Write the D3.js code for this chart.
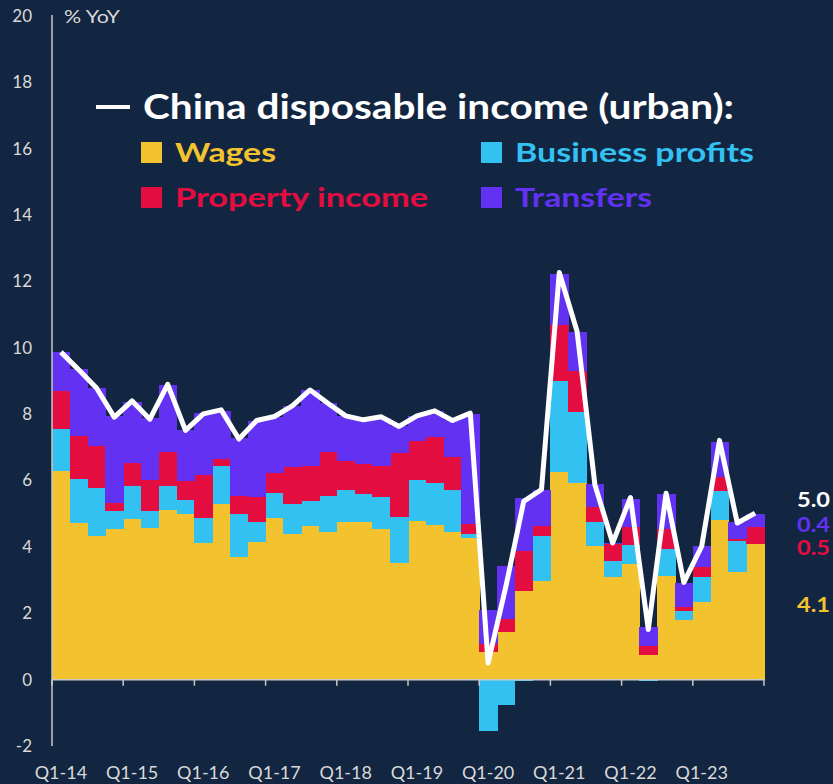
<!DOCTYPE html>
<html>
<head>
<meta charset="utf-8">
<script src="https://cdn.jsdelivr.net/npm/d3@7"></script>
<style>
  html, body { margin: 0; padding: 0; background: #132641; }
  svg { display: block; font-family: Lato, "Open Sans", sans-serif; }
</style>
</head>
<body>
<svg id="chart" width="833" height="784"></svg>
<script>
// quarterly categories, Q1-14 .. Q4-23
const years = ["14", "15", "16", "17", "18", "19", "20", "21", "22", "23"];
const quarters = years.flatMap(y => ["Q1", "Q2", "Q3", "Q4"].map(q => q + "-" + y));
const tickLabels = years.map(y => "Q1-" + y);
const yTicks = [-2, 0, 2, 4, 6, 8, 10, 12, 14, 16, 18, 20];

// contributions, ppt of YoY growth
const wages = [6.30, 4.72, 4.32, 4.54, 4.84, 4.56, 5.11, 5.00, 4.12, 5.29, 3.70, 4.14,
               4.87, 4.38, 4.64, 4.44, 4.75, 4.75, 4.54, 3.51, 4.77, 4.66, 4.44, 4.26,
               0.83, 1.43, 2.66, 2.98, 6.27, 5.92, 4.04, 3.08, 3.48, 0.75, 3.11, 1.81,
               2.34, 4.80, 3.24, 4.10];
const business = [1.25, 1.32, 1.47, 0.54, 0.99, 0.52, 0.72, 0.42, 0.75, 1.14, 1.29, 0.60,
                  0.75, 0.92, 0.75, 1.08, 0.96, 0.83, 0.96, 1.38, 1.26, 1.26, 1.28, 0.14,
                  -1.54, -0.75, -0.05, 1.34, 2.74, 2.16, 0.70, 0.50, 0.57, -0.03, 0.84, 0.27,
                  0.74, 0.90, 0.93, 0.00];
const property = [1.15, 1.29, 1.24, 0.24, 0.69, 0.95, 1.03, 0.57, 1.29, 0.22, 0.53, 0.76,
                  0.60, 1.11, 1.06, 1.33, 0.87, 0.91, 0.95, 1.94, 1.15, 1.39, 0.98, 0.30,
                  0.24, 0.41, 1.23, 0.32, 1.68, 1.21, 0.45, 0.51, 0.55, 0.25, 0.60, 0.11,
                  0.31, 0.42, 0.07, 0.50];
const transfers = [1.17, 2.03, 1.76, 2.63, 1.86, 1.85, 2.03, 1.54, 1.87, 1.45, 1.76, 2.28,
                   1.71, 1.84, 2.27, 1.48, 1.37, 1.34, 1.45, 0.80, 0.77, 0.79, 1.11, 3.30,
                   1.04, 1.59, 1.58, 1.08, 1.54, 1.20, 0.70, 0.03, 0.85, 0.58, 1.04, 0.73,
                   0.65, 1.04, 0.52, 0.40];
// headline: China disposable income (urban), % YoY
const income = [9.87, 9.34, 8.79, 7.91, 8.40, 7.85, 8.90, 7.51, 8.01, 8.13, 7.25, 7.81,
                7.93, 8.25, 8.73, 8.33, 7.95, 7.83, 7.92, 7.63, 7.95, 8.10, 7.81, 8.03,
                0.50, 2.81, 5.37, 5.73, 12.27, 10.49, 5.87, 4.12, 5.49, 1.51, 5.62, 2.93,
                4.02, 7.21, 4.72, 5.02];

const series = [
  { key: "wages", name: "Wages", color: "#f3c22f", values: wages },
  { key: "business", name: "Business profits", color: "#33c1f2", values: business },
  { key: "property", name: "Property income", color: "#e30d40", values: property },
  { key: "transfers", name: "Transfers", color: "#6231f2", values: transfers }
];

const svg = d3.select("#chart");
svg.append("rect").attr("width", 833).attr("height", 784).attr("fill", "#132641");

const x = d3.scaleBand().domain(quarters).range([52, 764]).padding(0);
const y = d3.scaleLinear().domain([-2, 20]).range([746, 16]);

const table = quarters.map((q, i) => {
  let row = { q: q };
  series.forEach(s => { row[s.key] = s.values[i]; });
  return row;
});

const stack = d3.stack()
  .keys(series.map(s => s.key))
  .offset(d3.stackOffsetDiverging);
const layers = stack(table);

// stacked bars, no gaps between quarters
svg.append("g")
  .attr("shape-rendering", "crispEdges")
  .selectAll("g")
  .data(layers)
  .enter().append("g")
  .attr("fill", (d, i) => series[i].color)
  .selectAll("rect")
  .data(d => d)
  .enter().append("rect")
  .attr("x", d => x(d.data.q))
  .attr("width", x.bandwidth() + 0.5)
  .attr("y", d => y(Math.max(d[0], d[1])))
  .attr("height", d => Math.abs(y(d[0]) - y(d[1])));

// axes
const axisColor = "#c9c9c9";
svg.append("line")
  .attr("x1", 52).attr("x2", 52)
  .attr("y1", y(20) - 1).attr("y2", y(-2))
  .attr("stroke", axisColor).attr("stroke-width", 1.5);

svg.append("line")
  .attr("x1", 52).attr("x2", 764)
  .attr("y1", y(0)).attr("y2", y(0))
  .attr("stroke", axisColor).attr("stroke-width", 1.5);

const yearStarts = tickLabels.map(t => x(t)).concat([764]);
svg.append("g").selectAll("line")
  .data(yearStarts)
  .enter().append("line")
  .attr("x1", d => d).attr("x2", d => d)
  .attr("y1", y(0)).attr("y2", y(0) + 6)
  .attr("stroke", axisColor).attr("stroke-width", 1.5);

svg.append("g").selectAll("text")
  .data(yTicks)
  .enter().append("text")
  .attr("x", 32)
  .attr("y", d => y(d))
  .attr("dy", "0.35em")
  .attr("text-anchor", "end")
  .attr("fill", "#d9d9d9")
  .attr("font-size", 17)
  .text(d => d);

svg.append("g").selectAll("text")
  .data(tickLabels)
  .enter().append("text")
  .attr("x", d => x(d) + x.bandwidth() / 2)
  .attr("y", 779)
  .attr("text-anchor", "middle")
  .attr("fill", "#d9d9d9")
  .attr("font-size", 18)
  .text(d => d);

svg.append("text")
  .attr("x", 64).attr("y", 23)
  .attr("fill", "#d9d9d9")
  .attr("font-size", 18)
  .attr("textLength", 56)
  .attr("lengthAdjust", "spacingAndGlyphs")
  .text("% YoY");

// headline line
const line = d3.line()
  .x((d, i) => x(quarters[i]) + x.bandwidth() / 2)
  .y(d => y(d));

svg.append("path")
  .datum(income)
  .attr("d", line)
  .attr("fill", "none")
  .attr("stroke", "#ffffff")
  .attr("stroke-width", 5)
  .attr("stroke-linejoin", "round");

// legend
svg.append("line")
  .attr("x1", 96).attr("x2", 130)
  .attr("y1", 107).attr("y2", 107)
  .attr("stroke", "#ffffff").attr("stroke-width", 4);
svg.append("text")
  .attr("x", 143).attr("y", 119)
  .attr("fill", "#ffffff")
  .attr("font-size", 35)
  .attr("font-weight", "bold")
  .attr("textLength", 591)
  .attr("lengthAdjust", "spacingAndGlyphs")
  .text("China disposable income (urban):");

const legendPos = [[141, 142], [481, 142], [141, 187], [481, 187]];
const legendWidth = [101, 239, 253, 137];
const legendItem = svg.append("g").selectAll("g")
  .data(series)
  .enter().append("g")
  .attr("transform", (d, i) => "translate(" + legendPos[i][0] + "," + legendPos[i][1] + ")");
legendItem.append("rect")
  .attr("width", 21).attr("height", 21)
  .attr("fill", d => d.color);
legendItem.append("text")
  .attr("x", 34).attr("y", 20)
  .attr("fill", d => d.color)
  .attr("font-size", 27)
  .attr("font-weight", "bold")
  .attr("textLength", (d, i) => legendWidth[i])
  .attr("lengthAdjust", "spacingAndGlyphs")
  .text(d => d.name);

// end labels for latest quarter
const last = quarters.length - 1;
const endLabels = [
  { text: d3.format(".1f")(income[last]), color: "#ffffff", y: y(income[last]) - 13 },
  { text: d3.format(".1f")(transfers[last]), color: series[3].color, y: y(income[last]) + 12 },
  { text: d3.format(".1f")(property[last]), color: series[2].color, y: y(income[last]) + 35 },
  { text: d3.format(".1f")(wages[last]), color: series[0].color, y: y(wages[last] / 2) - 7 }
];
svg.append("g").selectAll("text")
  .data(endLabels)
  .enter().append("text")
  .attr("x", 797)
  .attr("y", d => d.y)
  .attr("dy", "0.35em")
  .attr("fill", d => d.color)
  .attr("font-size", 21)
  .attr("font-weight", "bold")
  .attr("textLength", 33)
  .attr("lengthAdjust", "spacingAndGlyphs")
  .text(d => d.text);
</script>
</body>
</html>
